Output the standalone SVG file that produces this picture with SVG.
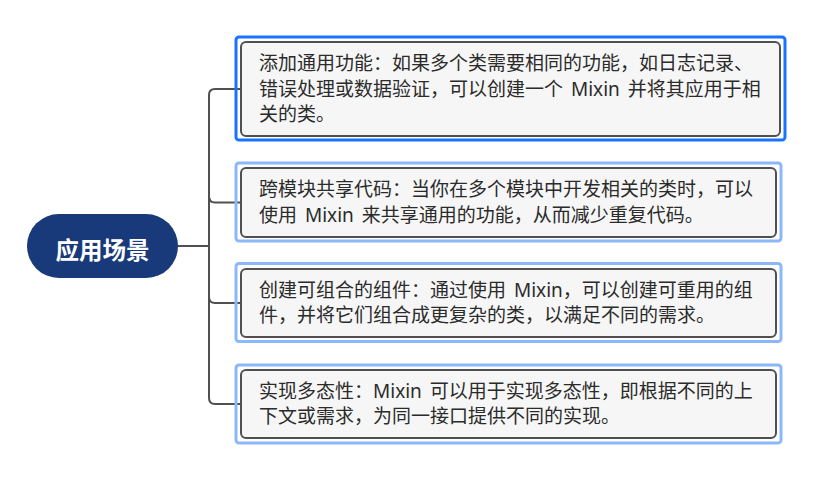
<svg xmlns="http://www.w3.org/2000/svg" width="821" height="486" viewBox="0 0 821 486">
<style>
.bg{fill:#ffffff}
.conn{fill:none;stroke:#505050;stroke-width:2}
.sel{fill:none;stroke:#1a73ff;stroke-width:3}
.hl{fill:none;stroke:#8cb8fb;stroke-width:3}
.box{fill:#f6f6f6;stroke:#505050;stroke-width:2}
.t{font-family:"Noto Sans","Noto Sans CJK SC",sans-serif;font-size:19px;word-spacing:3px;fill:#2b2b2b}
.root{fill:#193a7a}
.rt{font-family:"Noto Sans CJK SC","Noto Sans",sans-serif;font-size:23.5px;font-weight:bold;fill:#ffffff}
</style>
<rect class="bg" x="0" y="0" width="821" height="486"/>
<g id="connectors">
<path class="conn" d="M178,246 H209"/>
<path class="conn" d="M241,89 H215 Q209,89 209,95 V398 Q209,404 215,404 H241"/>
<path class="conn" d="M209,196 Q209,202.5 215,202.5 H241"/>
<path class="conn" d="M209,297 Q209,303 215,303 H241"/>
</g>
<g id="root">
<rect class="root" x="27" y="214" width="151" height="64" rx="32"/>
<text class="rt" x="102.5" y="259" text-anchor="middle">应用场景</text>
</g>
<g id="node1">
<rect class="sel" x="236" y="37" width="549" height="103" rx="3"/>
<rect class="box" x="241" y="42" width="539" height="94" rx="5"/>
<text class="t" x="259" y="70">添加通用功能：如果多个类需要相同的功能，如日志记录、</text>
<text class="t" x="259" y="95.5">错误处理或数据验证，可以创建一个 Mixin 并将其应用于相</text>
<text class="t" x="259" y="121">关的类。</text>
</g>
<g id="node2">
<rect class="hl" x="236" y="163" width="545" height="78" rx="3"/>
<rect class="box" x="241" y="168" width="535" height="69" rx="5"/>
<text class="t" x="259" y="196">跨模块共享代码：当你在多个模块中开发相关的类时，可以</text>
<text class="t" x="259" y="221.5">使用 Mixin 来共享通用的功能，从而减少重复代码。</text>
</g>
<g id="node3">
<rect class="hl" x="236" y="263.5" width="545" height="78" rx="3"/>
<rect class="box" x="241" y="269" width="535" height="68" rx="5"/>
<text class="t" x="259" y="296.5">创建可组合的组件：通过使用 Mixin，可以创建可重用的组</text>
<text class="t" x="259" y="322">件，并将它们组合成更复杂的类，以满足不同的需求。</text>
</g>
<g id="node4">
<rect class="hl" x="236" y="365" width="545" height="78" rx="3"/>
<rect class="box" x="241" y="370" width="535" height="68" rx="5"/>
<text class="t" x="259" y="397.5">实现多态性：Mixin 可以用于实现多态性，即根据不同的上</text>
<text class="t" x="259" y="423">下文或需求，为同一接口提供不同的实现。</text>
</g>
</svg>
